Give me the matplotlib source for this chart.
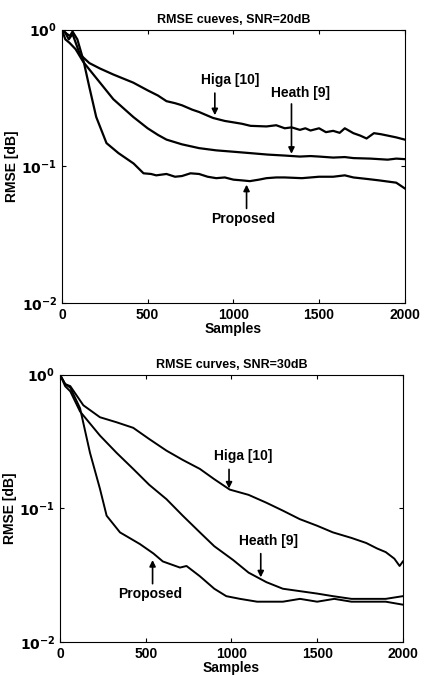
import numpy as np
import matplotlib.pyplot as plt

plt.rcParams['font.family'] = ['Liberation Sans', 'DejaVu Sans']
plt.rcParams['font.weight'] = 'bold'
plt.rcParams['axes.titleweight'] = 'bold'
plt.rcParams['axes.labelweight'] = 'bold'

# SNR = 20dB
x20_higa = [0, 20, 40, 62, 105, 160, 222, 300, 416, 500, 560, 610, 660, 700, 760, 800, 850, 882, 950,
            1000, 1050, 1100, 1193, 1250, 1300, 1340, 1388, 1420, 1450, 1500, 1540, 1582, 1620, 1650,
            1700, 1740, 1777, 1820, 1860, 1900, 1950, 2000]
y20_higa = [1.0, 0.95, 0.85, 0.93, 0.66, 0.57, 0.52, 0.47, 0.41, 0.36, 0.33, 0.30, 0.29, 0.28, 0.26,
            0.25, 0.235, 0.226, 0.215, 0.21, 0.205, 0.198, 0.196, 0.20, 0.19, 0.193, 0.185, 0.19, 0.183,
            0.19, 0.178, 0.182, 0.176, 0.19, 0.175, 0.168, 0.16, 0.175, 0.172, 0.168, 0.163, 0.157]
x20_heath = [0, 20, 45, 80, 125, 222, 300, 416, 500, 560, 610, 700, 800, 900, 1000, 1100, 1200, 1300,
             1388, 1450, 1500, 1582, 1650, 1700, 1800, 1900, 1950, 2000]
y20_heath = [1.0, 0.85, 0.80, 0.72, 0.58, 0.41, 0.31, 0.23, 0.19, 0.17, 0.157, 0.145, 0.136, 0.131,
             0.128, 0.125, 0.122, 0.120, 0.118, 0.119, 0.118, 0.116, 0.117, 0.115, 0.114, 0.112, 0.114,
             0.113]
x20_prop = [0, 30, 47, 62, 90, 125, 160, 200, 260, 330, 418, 476, 520, 550, 610, 660, 700, 750, 800,
            850, 900, 950, 1000, 1050, 1096, 1150, 1193, 1250, 1300, 1400, 1500, 1582, 1650, 1700, 1777,
            1850, 1950, 2000]
y20_prop = [1.0, 0.93, 0.90, 0.97, 0.85, 0.60, 0.38, 0.23, 0.148, 0.125, 0.105, 0.089, 0.088, 0.086,
            0.088, 0.084, 0.085, 0.089, 0.088, 0.084, 0.082, 0.083, 0.080, 0.079, 0.078, 0.080, 0.082,
            0.083, 0.083, 0.082, 0.084, 0.084, 0.086, 0.083, 0.081, 0.079, 0.076, 0.069]

# SNR = 30dB
x30_higa = [0, 30, 60, 136, 233, 330, 427, 520, 621, 716, 816, 900, 990, 1100, 1204, 1300, 1398, 1500,
            1592, 1700, 1786, 1850, 1900, 1950, 1981, 2000]
y30_higa = [1.0, 0.85, 0.82, 0.59, 0.48, 0.44, 0.40, 0.33, 0.27, 0.23, 0.197, 0.165, 0.138, 0.126, 0.11,
            0.096, 0.083, 0.074, 0.066, 0.060, 0.055, 0.050, 0.047, 0.042, 0.037, 0.040]
x30_heath = [0, 30, 60, 117, 233, 330, 427, 520, 621, 716, 816, 900, 1010, 1100, 1204, 1300, 1398,
             1500, 1592, 1700, 1786, 1900, 2000]
y30_heath = [1.0, 0.82, 0.75, 0.53, 0.35, 0.26, 0.197, 0.15, 0.117, 0.088, 0.066, 0.052, 0.041, 0.033,
             0.028, 0.025, 0.024, 0.023, 0.022, 0.021, 0.021, 0.021, 0.022]
x30_prop = [0, 30, 60, 117, 175, 233, 272, 350, 466, 544, 600, 700, 738, 816, 900, 970, 1050, 1150,
            1300, 1400, 1500, 1600, 1700, 1800, 1900, 2000]
y30_prop = [1.0, 0.85, 0.80, 0.56, 0.26, 0.14, 0.088, 0.066, 0.054, 0.046, 0.040, 0.036, 0.037, 0.031,
            0.025, 0.022, 0.021, 0.020, 0.020, 0.021, 0.020, 0.021, 0.020, 0.020, 0.020, 0.019]


def setup(ax, title):
    ax.set_yscale('log')
    ax.set_xlim(0, 2000)
    ax.set_ylim(0.01, 1)
    ax.set_xticks([0, 500, 1000, 1500, 2000])
    ax.set_yticks([0.01, 0.1, 1])
    ax.set_yticklabels([r'$\mathbf{10^{-2}}$', r'$\mathbf{10^{-1}}$', r'$\mathbf{10^{0}}$'])
    ax.minorticks_off()
    ax.tick_params(direction='in', labelsize=10, length=3, top=True, right=True)
    ax.set_title(title, fontsize=9, pad=5)
    ax.set_ylabel('RMSE [dB]', fontsize=10, labelpad=2)
    ax.set_xlabel('Samples', fontsize=10, labelpad=0)


def note(ax, text, tx, ty, ax0, ay0, ax1, ay1):
    ax.text(tx, ty, text, fontsize=10, ha='center', va='center')
    ax.annotate('', xy=(ax1, ay1), xytext=(ax0, ay0),
                arrowprops=dict(arrowstyle='-|>', color='black', lw=1.2, mutation_scale=9))


fig = plt.figure(figsize=(4.27, 6.75), dpi=100)
ax1 = fig.add_axes([0.145, 0.551, 0.803, 0.405])
ax2 = fig.add_axes([0.1405, 0.049, 0.803, 0.396])

for xs, ys in [(x20_higa, y20_higa), (x20_heath, y20_heath), (x20_prop, y20_prop)]:
    ax1.plot(xs, ys, color='black', lw=1.6)
setup(ax1, 'RMSE cueves, SNR=20dB')
note(ax1, 'Higa [10]', 980, 0.43, 892, 0.36, 892, 0.226)
note(ax1, 'Heath [9]', 1390, 0.345, 1339, 0.30, 1339, 0.118)
note(ax1, 'Proposed', 1057, 0.041, 1077, 0.047, 1077, 0.077)

for xs, ys in [(x30_higa, y30_higa), (x30_heath, y30_heath), (x30_prop, y30_prop)]:
    ax2.plot(xs, ys, color='black', lw=1.4)
setup(ax2, 'RMSE curves, SNR=30dB')
note(ax2, 'Higa [10]', 1068, 0.248, 986, 0.205, 986, 0.134)
note(ax2, 'Heath [9]', 1214, 0.0567, 1171, 0.048, 1171, 0.029)
note(ax2, 'Proposed', 524, 0.023, 540, 0.026, 540, 0.043)

fig.savefig('out.png', dpi=100)
